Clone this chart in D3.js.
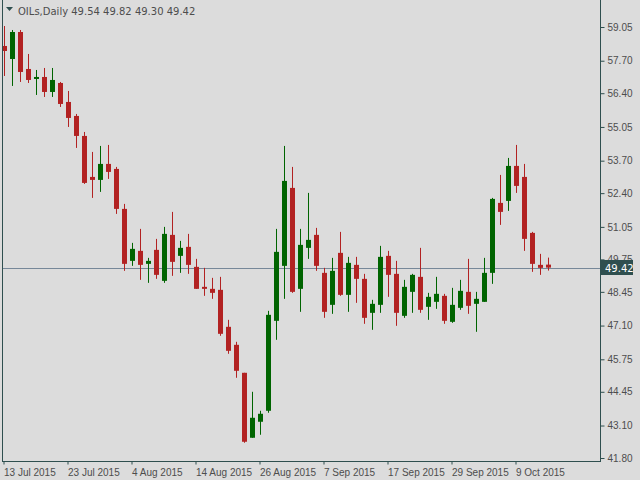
<!DOCTYPE html>
<html>
<head>
<meta charset="utf-8">
<script src="https://cdn.jsdelivr.net/npm/d3@7"></script>
<style>
body{margin:0;background:#dcdcdc;}
svg{display:block;font-family:Tahoma,"DejaVu Sans",sans-serif;}
</style>
</head>
<body>
<svg id="chart" width="640" height="480"></svg>
<script>
var opens  = [58.29,57.77,58.85,57.37,56.97,57.05,56.45,56.81,56.05,55.49,54.69,53.05,52.93,53.57,53.37,51.77,49.69,50.09,49.57,50.13,48.89,50.73,49.89,50.25,49.45,48.65,48.57,48.53,47.05,46.33,45.21,42.61,43.25,43.69,47.29,49.49,52.61,48.57,50.21,50.73,49.21,47.93,50.01,48.33,49.53,48.97,47.61,47.93,49.89,49.17,47.49,48.45,49.05,47.85,48.05,48.29,47.25,47.81,48.45,47.97,48.05,49.21,52.01,52.09,53.49,53.05,50.81,49.53,49.54];
var highs  = [59.09,58.93,58.93,57.97,57.33,57.41,57.41,56.85,56.49,55.57,54.85,54.05,54.29,54.33,53.45,51.97,50.41,50.97,49.81,50.57,51.05,51.65,50.49,50.77,49.77,49.41,49.01,49.05,47.33,46.45,45.21,44.45,43.69,47.69,50.97,54.29,53.45,50.97,52.41,51.01,49.41,49.81,50.85,49.85,49.85,49.17,48.13,50.29,50.09,49.69,48.93,49.17,50.21,48.41,49.05,48.37,48.61,48.93,49.77,48.45,49.81,52.21,53.13,53.81,54.33,53.57,50.85,49.97,49.82];
var lows   = [57.09,56.69,56.85,56.81,56.33,56.25,56.25,55.85,55.05,54.21,52.77,52.21,52.45,52.97,51.57,49.29,49.49,48.93,48.81,48.97,48.81,49.09,49.21,49.17,48.57,48.29,48.17,46.69,45.97,45.01,42.41,42.61,42.73,43.61,46.53,48.17,48.41,47.65,49.77,49.29,47.41,47.57,48.29,47.65,48.01,47.17,46.93,47.61,48.25,47.09,47.41,47.61,47.61,47.33,47.77,47.17,47.21,47.73,47.57,46.85,48.05,48.77,51.13,51.69,52.41,50.09,49.25,49.13,49.30];
var closes = [58.09,58.85,57.25,56.93,57.05,56.45,56.93,55.97,55.41,54.69,52.81,52.93,53.57,53.25,51.77,49.57,50.17,49.53,49.69,49.13,50.77,49.65,50.21,49.53,48.57,48.57,48.41,46.77,46.09,45.29,42.45,43.41,43.57,47.53,50.05,52.89,48.45,50.33,50.53,49.49,47.65,49.29,48.33,49.61,48.97,47.41,47.97,49.85,49.13,47.61,48.65,49.13,47.73,48.25,48.37,47.29,47.93,48.49,47.89,48.17,49.21,52.17,51.65,53.49,52.69,50.57,49.57,49.41,49.42];

var priceTicks = [59.05,57.70,56.40,55.05,53.70,52.40,51.05,49.75,48.45,47.10,45.75,44.45,43.10,41.80];
var dateLabels = ["13 Jul 2015","23 Jul 2015","4 Aug 2015","14 Aug 2015","26 Aug 2015","7 Sep 2015","17 Sep 2015","29 Sep 2015","9 Oct 2015"];
var dateIndex  = [0,8,16,24,32,40,48,56,64];
var lastPrice = 49.42;

var svg = d3.select("#chart");
var plotRight = 600, plotBottom = 461;
var x = d3.scaleLinear().domain([0, 1]).range([3.5, 11.5]);
var y = d3.scaleLinear().domain([41.80, 59.05]).range([458, 27]);
var RED = "#b22222", GREEN = "#006400", TXT = "#4d4d4d";

var data = opens.map(function(o, i){
    return {i: i, o: o, h: highs[i], l: lows[i], c: closes[i]};
});

var clip = svg.append("clipPath").attr("id", "plot")
    .append("rect").attr("x", 3).attr("y", 0).attr("width", plotRight - 3).attr("height", plotBottom);

// last price line
svg.append("line")
    .attr("x1", 3).attr("x2", plotRight)
    .attr("y1", Math.round(y(lastPrice)) + 0.5).attr("y2", Math.round(y(lastPrice)) + 0.5)
    .attr("stroke", "#778899");

var g = svg.append("g").attr("clip-path", "url(#plot)");
var candles = g.selectAll("g.c").data(data).enter().append("g")
    .attr("fill", function(d){ return d.c >= d.o ? GREEN : RED; })
    .attr("stroke", function(d){ return d.c >= d.o ? GREEN : RED; });
candles.append("line")
    .attr("x1", function(d){ return Math.round(x(d.i)) + 0.5; })
    .attr("x2", function(d){ return Math.round(x(d.i)) + 0.5; })
    .attr("y1", function(d){ return y(d.h); })
    .attr("y2", function(d){ return y(d.l); });
candles.append("rect")
    .attr("stroke", "none")
    .attr("x", function(d){ return Math.round(x(d.i)) - 2; })
    .attr("width", 5)
    .attr("y", function(d){ return y(Math.max(d.o, d.c)); })
    .attr("height", function(d){ return Math.max(1.5, Math.abs(y(d.o) - y(d.c))); });

// frame
svg.append("line").attr("x1", 2.5).attr("x2", 2.5).attr("y1", 0).attr("y2", plotBottom).attr("stroke", "#2f4f4f");
svg.append("line").attr("x1", plotRight + 0.5).attr("x2", plotRight + 0.5).attr("y1", 0).attr("y2", plotBottom).attr("stroke", "#2f4f4f");
svg.append("line").attr("x1", 2).attr("x2", plotRight + 1).attr("y1", plotBottom + 0.5).attr("y2", plotBottom + 0.5).attr("stroke", "#2f4f4f");

// price axis
var yAxis = d3.axisRight(y).tickValues(priceTicks).tickFormat(d3.format(".2f")).tickSize(4).tickPadding(3);
var ya = svg.append("g").attr("transform", "translate(" + (plotRight + 0.5) + ",0)").call(yAxis);
ya.select(".domain").remove();
ya.selectAll("line").attr("stroke", "#2f4f4f");
ya.selectAll("text").attr("fill", TXT).style("font-size", "10px");

// last price label
var ly = Math.round(y(lastPrice));
svg.append("rect").attr("x", plotRight + 1).attr("y", ly - 8).attr("width", 32).attr("height", 15).attr("fill", "#2f4f4f");
svg.append("text").attr("x", plotRight + 5).attr("y", ly + 4).attr("fill", "#ffffff").style("font-size", "10px").text(lastPrice.toFixed(2));

// date axis
var xAxis = d3.axisBottom(x).tickValues(dateIndex).tickFormat(function(d, i){ return dateLabels[i]; }).tickSize(3).tickPadding(4);
var xa = svg.append("g").attr("transform", "translate(0," + (plotBottom + 0.5) + ")").call(xAxis);
xa.select(".domain").remove();
xa.selectAll("line").attr("stroke", "#2f4f4f");
xa.selectAll("text").attr("fill", TXT).attr("text-anchor", "start").style("font-size", "10px");

// title
svg.append("path").attr("d", "M6,7 L13,7 L9.5,11 Z").attr("fill", "#2f4f4f");
svg.append("text").attr("x", 18).attr("y", 15).attr("fill", TXT).style("font-size", "10px")
    .text("OILs,Daily  " + [opens[68], highs[68], lows[68], closes[68]].map(function(v){ return v.toFixed(2); }).join(" "));
</script>
</body>
</html>
